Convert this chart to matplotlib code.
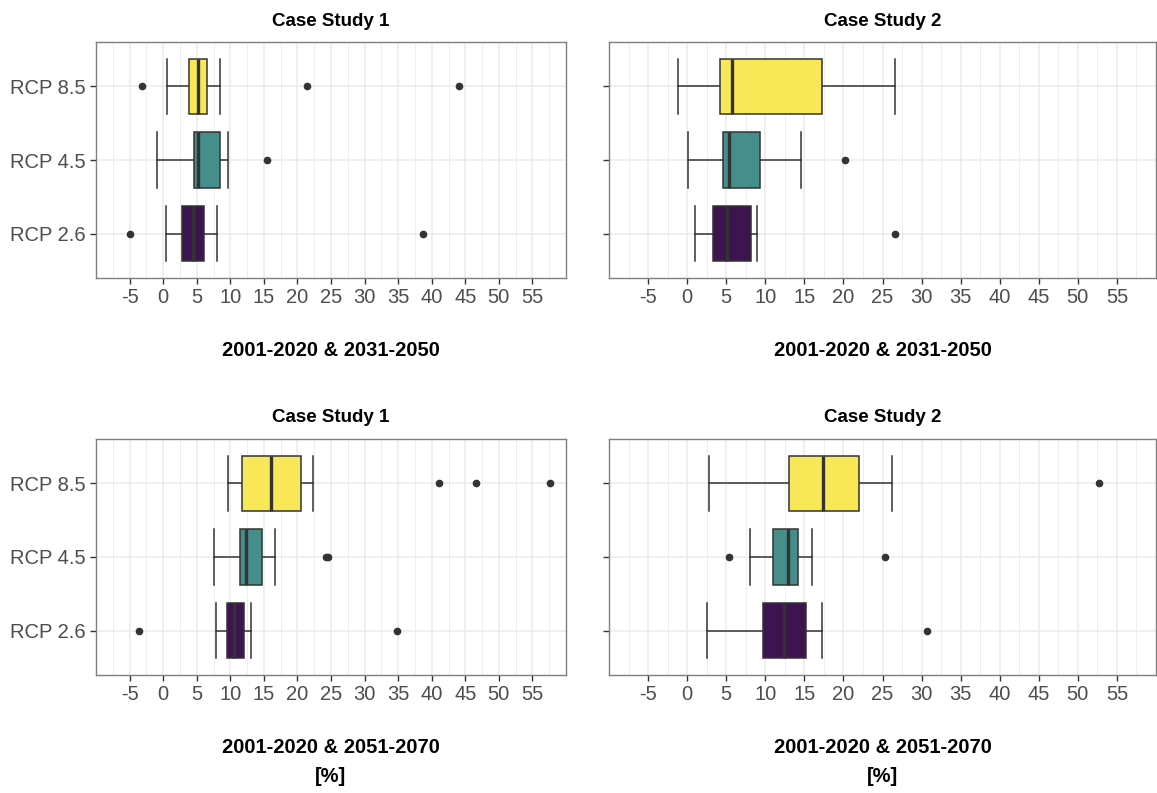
import numpy as np
import matplotlib.pyplot as plt

plt.rcParams['font.family'] = ['Liberation Sans', 'DejaVu Sans']

scenarios = ['RCP 2.6', 'RCP 4.5', 'RCP 8.5']
fills = ['#3E1450', '#468E8A', '#F8E757']

# box stats per scenario: [whisker low, q1, median, q3, whisker high]
cs1_2050 = [[0.4, 2.75, 4.4, 6.1, 8.0],
            [-0.9, 4.6, 5.2, 8.5, 9.7],
            [0.6, 3.8, 5.2, 6.6, 8.4]]
cs1_2050_out = [[-4.9, 38.7], [15.5], [-3.2, 21.4, 44.1]]

cs2_2050 = [[0.95, 3.34, 5.05, 8.2, 8.88],
            [0.09, 4.64, 5.41, 9.38, 14.56],
            [-1.22, 4.15, 5.77, 17.3, 26.6]]
cs2_2050_out = [[26.6], [20.2], []]

cs1_2070 = [[7.8, 9.55, 10.6, 12.1, 13.1],
            [7.56, 11.5, 12.3, 14.7, 16.7],
            [9.65, 11.74, 16.0, 20.5, 22.3]]
cs1_2070_out = [[-3.56, 34.9], [24.2, 24.5], [41.1, 46.6, 57.6]]

cs2_2070 = [[2.57, 9.74, 12.4, 15.15, 17.3],
            [8.07, 10.96, 12.9, 14.15, 16.0],
            [2.84, 13.0, 17.36, 22.0, 26.2]]
cs2_2070_out = [[30.66], [5.4, 25.3], [52.75]]

titles = ['Case Study 1', 'Case Study 2', 'Case Study 1', 'Case Study 2']
periods = ['2001-2020 & 2031-2050', '2001-2020 & 2031-2050',
           '2001-2020 & 2051-2070\n[%]', '2001-2020 & 2051-2070\n[%]']
xticks = np.arange(-5, 60, 5)

W, H = 1157, 793
fig = plt.figure(figsize=(W / 100, H / 100), dpi=100)

# axes boxes in pixels: left, top, right, bottom
boxes = [(96, 42, 566, 278), (609, 42, 1156, 278),
         (96, 439, 566, 675), (609, 439, 1156, 675)]
panels = [(cs1_2050, cs1_2050_out), (cs2_2050, cs2_2050_out),
          (cs1_2070, cs1_2070_out), (cs2_2070, cs2_2070_out)]

for i, ((l, t, r, b), (vals, outs)) in enumerate(zip(boxes, panels)):
    ax = fig.add_axes([l / W, 1 - b / H, (r - l) / W, (b - t) / H])
    stats = []
    for v, o in zip(vals, outs):
        stats.append(dict(whislo=v[0], q1=v[1], med=v[2], q3=v[3], whishi=v[4], fliers=o))
    bp = ax.bxp(stats, positions=[1, 2, 3], widths=0.75, capwidths=0.75,
                orientation='horizontal', patch_artist=True, showfliers=True,
                boxprops=dict(edgecolor='#333333', linewidth=1.1),
                medianprops=dict(color='#333333', linewidth=2.4),
                whiskerprops=dict(color='#333333', linewidth=1.1),
                capprops=dict(color='#333333', linewidth=1.1),
                flierprops=dict(marker='o', markerfacecolor='#333333',
                                markeredgecolor='#333333', markersize=4.5))
    for patch, c in zip(bp['boxes'], fills):
        patch.set_facecolor(c)
        patch.set_zorder(3)
    for k in ['whiskers', 'caps', 'medians', 'fliers']:
        for ln in bp[k]:
            ln.set_zorder(4 if k != 'whiskers' else 2)

    ax.set_xlim(-10, 60)
    ax.set_ylim(0.4, 3.6)
    ax.set_xticks(xticks)
    ax.set_xticklabels([str(x) for x in xticks])
    ax.set_xticks(np.arange(-7.5, 60, 5), minor=True)
    ax.set_yticks([1, 2, 3])
    if i % 2 == 0:
        ax.set_yticklabels(scenarios)
    else:
        ax.set_yticklabels([])
    ax.set_axisbelow(True)
    ax.grid(True, which='major', color='#EBEBEB', linewidth=1.1)
    ax.grid(True, which='minor', axis='x', color='#EBEBEB', linewidth=0.6)
    ax.tick_params(axis='both', which='major', labelsize=14.5, labelcolor='#4D4D4D',
                   color='#333333', length=4, width=1)
    ax.tick_params(axis='both', which='minor', length=0)
    for s in ax.spines.values():
        s.set_color('#7F7F7F')
        s.set_linewidth(1)

    cx = (l + r) / 2 / W
    fig.text(cx, 1 - (t - 21) / H, titles[i], ha='center', va='center',
             fontsize=13.5, fontweight='bold', color='black')
    fig.text(cx, 1 - (b + 63) / H, periods[i], ha='center', va='top',
             fontsize=14.5, fontweight='bold', color='black', linespacing=1.7)

fig.savefig('out.png', dpi=100, facecolor='white')
